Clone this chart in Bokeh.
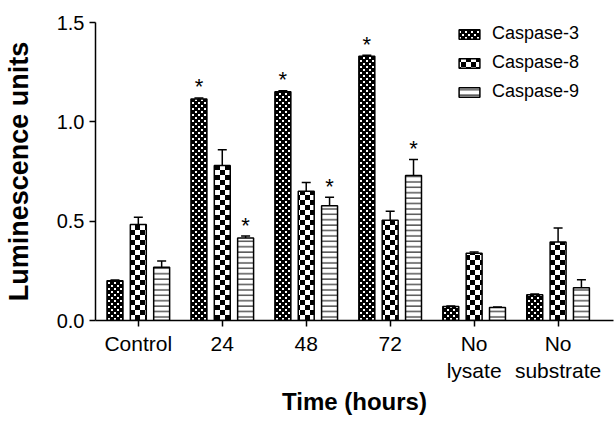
import base64, struct, zlib
from bokeh.plotting import figure
from bokeh.models import (Range1d, ColumnDataSource, Legend, LegendItem, ImageURLTexture,
                          Whisker, TeeHead, FixedTicker, NumeralTickFormatter)
from bokeh.transform import dodge
from bokeh.core.properties import value
from bokeh.embed import file_html
from bokeh.resources import INLINE

categories = ["Control", "24", "48", "72", "No\nlysate", "No\nsubstrate"]
series = ["Caspase-3", "Caspase-8", "Caspase-9"]
casp3 = [0.20, 1.115, 1.152, 1.33, 0.07, 0.13]
casp3_err = [0.004, 0.005, 0.005, 0.005, 0.003, 0.003]
casp8 = [0.483, 0.78, 0.65, 0.505, 0.338, 0.395]
casp8_err = [0.037, 0.08, 0.045, 0.045, 0.007, 0.07]
casp9 = [0.268, 0.415, 0.578, 0.73, 0.065, 0.165]
casp9_err = [0.032, 0.01, 0.042, 0.08, 0.003, 0.04]
casp3_star = [False, True, True, True, False, False]
casp9_star = [False, True, True, True, False, False]
y_ticks = [0.0, 0.5, 1.0, 1.5]
x_title = "Time (hours)"
y_title = "Luminescence units"

FONT = "Liberation Sans"
idx = list(range(len(categories)))


def png_url(rows):
    h = len(rows); w = len(rows[0])
    raw = b"".join(b"\x00" + bytes(r) for r in rows)
    def chunk(t, d):
        c = struct.pack(">I", len(d)) + t + d
        return c + struct.pack(">I", zlib.crc32(t + d) & 0xffffffff)
    data = (b"\x89PNG\r\n\x1a\n" + chunk(b"IHDR", struct.pack(">IIBBBBB", w, h, 8, 0, 0, 0, 0))
            + chunk(b"IDAT", zlib.compress(raw)) + chunk(b"IEND", b""))
    return "data:image/png;base64," + base64.b64encode(data).decode()

cell = 5
checker_rows = [[0 if ((x // cell) + (y // cell)) % 2 == 0 else 255 for x in range(2 * cell)]
                for y in range(2 * cell)]
checker_tex = ImageURLTexture(url=png_url(checker_rows))

# fine staggered dot texture (white dots on black)
fine_rows = [[255 if ((x % 6 < 2 and y % 6 < 2) or (3 <= x % 6 < 5 and 3 <= y % 6 < 5)) else 0
              for x in range(6)] for y in range(6)]
fine_tex = ImageURLTexture(url=png_url(fine_rows))

src = ColumnDataSource(dict(
    x=idx,
    c3=casp3, c3_hi=[v + e for v, e in zip(casp3, casp3_err)],
    c8=casp8, c8_hi=[v + e for v, e in zip(casp8, casp8_err)],
    c9=casp9, c9_hi=[v + e for v, e in zip(casp9, casp9_err)],
))

p = figure(width=615, height=422, output_backend="svg", toolbar_location=None,
           x_range=Range1d(-0.51, 5.66), y_range=Range1d(0, 1.5),
           min_border_left=92, min_border_right=2, min_border_top=22, min_border_bottom=102)
p.outline_line_color = None
p.xgrid.visible = False
p.ygrid.visible = False
p.background_fill_color = "white"
p.border_fill_color = "white"

off = 0.278
bw = 0.19

def bars(field, offset, **kw):
    args = dict(width=bw, bottom=0, source=src, line_color="black", line_width=1.5)
    args.update(kw)
    return p.vbar(x=dodge("x", offset), top=field, **args)

r3 = bars("c3", -off, fill_color="black", hatch_pattern=value("fine"),
          hatch_extra={"fine": fine_tex}, hatch_color="white")
r8 = bars("c8", 0, fill_color="white", hatch_pattern=value("chk"),
          hatch_extra={"chk": checker_tex}, hatch_color="black")
r9 = bars("c9", off, fill_color="white", hatch_pattern="horizontal_line", hatch_color="black",
          hatch_scale=5.4, hatch_weight=1.0)

for f, o in (("c3", -off), ("c8", 0), ("c9", off)):
    w = Whisker(source=src, base=dodge("x", o), upper=f + "_hi", lower=f,
                line_color="black", line_width=1.5,
                upper_head=TeeHead(size=9, line_width=1.5, line_color="black"),
                lower_head=None)
    p.add_layout(w)

# significance stars
star_x, star_y = [], []
for i in idx:
    if casp3_star[i]:
        star_x.append(i - off); star_y.append(casp3[i] + casp3_err[i])
    if casp9_star[i]:
        star_x.append(i + off); star_y.append(casp9[i] + casp9_err[i])
p.text(x=star_x, y=star_y, text=["*"] * len(star_x), text_align="center",
       text_baseline="middle", y_offset=-11, text_font=value(FONT),
       text_font_size="22px", text_color="black")

legend = Legend(items=[LegendItem(label=series[0], renderers=[r3]),
                       LegendItem(label=series[1], renderers=[r8]),
                       LegendItem(label=series[2], renderers=[r9])],
                location=(361, 218), border_line_alpha=0, background_fill_alpha=0,
                padding=0, margin=0, spacing=8, glyph_width=26, glyph_height=12,
                label_standoff=10, label_text_font=FONT, label_text_font_size="18px",
                label_text_color="black", label_height=20)
p.add_layout(legend)

xa = p.xaxis[0]
xa.ticker = FixedTicker(ticks=idx)
xa.major_label_overrides = {i: c for i, c in zip(idx, categories)}
xa.minor_tick_line_color = None
xa.major_tick_in = 0
xa.major_tick_out = 6
xa.axis_line_width = 1.5
xa.axis_line_color = "black"
xa.major_tick_line_width = 1.5
xa.major_tick_line_color = "black"
xa.major_label_text_font = FONT
xa.major_label_text_font_size = "21px"
xa.major_label_text_color = "black"
xa.major_label_standoff = 5
xa.axis_label = x_title
xa.axis_label_text_font = FONT
xa.axis_label_text_font_style = "bold"
xa.axis_label_text_font_size = "24px"
xa.axis_label_text_color = "black"
xa.axis_label_standoff = 3

ya = p.yaxis[0]
ya.ticker = FixedTicker(ticks=y_ticks)
ya.formatter = NumeralTickFormatter(format="0.0")
ya.minor_tick_line_color = None
ya.major_tick_in = 0
ya.major_tick_out = 6
ya.axis_line_width = 1.5
ya.axis_line_color = "black"
ya.major_tick_line_width = 1.5
ya.major_tick_line_color = "black"
ya.major_label_text_font = FONT
ya.major_label_text_font_size = "20px"
ya.major_label_text_color = "black"
ya.major_label_standoff = 5
ya.axis_label = y_title
ya.axis_label_text_font = FONT
ya.axis_label_text_font_style = "bold"
ya.axis_label_text_font_size = "27px"
ya.axis_label_text_color = "black"
ya.axis_label_standoff = 20

open("out.html", "w").write(file_html(p, INLINE))
